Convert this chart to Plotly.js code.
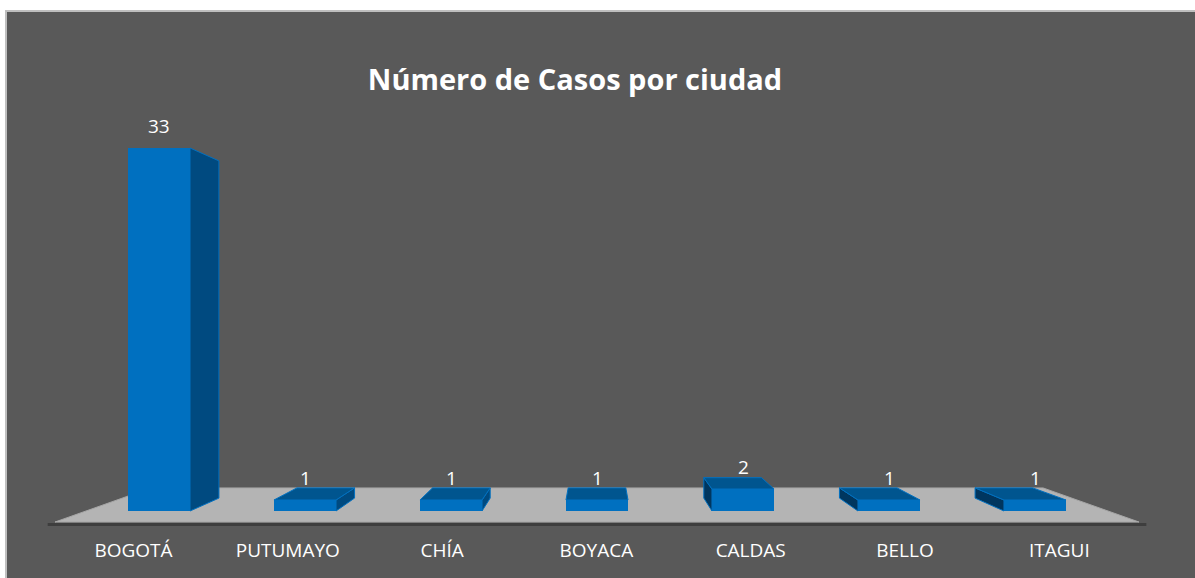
<!DOCTYPE html>
<html><head><meta charset="utf-8">
<script src="https://cdn.plot.ly/plotly-3.0.1.min.js"></script>
<style>html,body{margin:0;padding:0;background:#fff;}#chart{width:1195px;height:578px;}</style>
</head><body><div id="chart"></div>
<script>
// ---- data ----
const categories = ['BOGOTÁ', 'PUTUMAYO', 'CHÍA', 'BOYACA', 'CALDAS', 'BELLO', 'ITAGUI'];
const casos = [33, 1, 1, 1, 2, 1, 1];
const chartTitle = 'Número de Casos por ciudad';

// ---- style / pseudo-3D projection parameters ----
const W = 1195, H = 578, MB = 41;
const barWidth = 0.425;
const backScale = 0.929;      // depth scale of bar back faces
const floorFront = 1.0606, floorBack = 0.873, axisScale = 1.075;
const colFront = '#0070C0', colSide = '#004A80', colSideL = '#00365F', colTop = '#00558F';
const FONT = 'Open Sans, Noto Sans, sans-serif';

const idx = categories.map((_, i) => i);
const n = categories.length;
const vx = (n - 1) / 2;                 // vanishing point (centre of categories)
const vy = Math.max(...casos) / 2;      // eye level at half the tallest bar
function proj(x, y, s) { return [vx + (x - vx) * s, vy + (y - vy) * s]; }

// axis mapping (bar axis and label axis)
const bx0 = 159, bdx = 146, lx0 = 133.5, ldx = 154.3, y0px = 511, ypx = 11;
const plotH = H - MB;

// ---- faces ----
function polyTrace(polys, fill) {
  const xs = [], ys = [];
  polys.forEach(p => { p.forEach(pt => { xs.push(pt[0]); ys.push(pt[1]); }); xs.push(p[0][0]); ys.push(p[0][1]); xs.push(null); ys.push(null); });
  return {x: xs, y: ys, type: 'scatter', mode: 'lines', fill: 'toself', fillcolor: fill,
          line: {color: colFront, width: 1}, hoverinfo: 'skip', showlegend: false, xaxis: 'x', yaxis: 'y'};
}
const rightFaces = [], leftFaces = [], topFaces = [];
idx.forEach(i => {
  const v = casos[i], xl = i - barWidth / 2, xr = i + barWidth / 2;
  if (i < vx) {
    rightFaces.push([[xr, v], proj(xr, v, backScale), proj(xr, 0, backScale), [xr, 0]]);
  } else if (i > vx) {
    leftFaces.push([[xl, v], proj(xl, v, backScale), proj(xl, 0, backScale), [xl, 0]]);
  }
  if (v < vy) {
    topFaces.push([[xl, v], [xr, v], proj(xr, v, backScale), proj(xl, v, backScale)]);
  }
});

// floor and axis line as shapes below the traces
const fFL = proj(-0.5, 0, floorFront), fFR = proj(n - 0.5, 0, floorFront);
const fBL = proj(-0.5, 0, floorBack), fBR = proj(n - 0.5, 0, floorBack);
const aL = proj(-0.5, 0, axisScale), aR = proj(n - 0.5, 0, axisScale);
const floorPath = `M${fFL[0]},${fFL[1]} L${fFR[0]},${fFR[1]} L${fBR[0]},${fBR[1]} L${fBL[0]},${fBL[1]} Z`;

const traces = [
  {type: 'bar', x: idx, y: casos, width: barWidth, marker: {color: colFront, line: {width: 0}},
   hoverinfo: 'skip', showlegend: false, xaxis: 'x', yaxis: 'y'},
  polyTrace(rightFaces, colSide),
  polyTrace(leftFaces, colSideL),
  polyTrace(topFaces, colTop),
  {type: 'scatter', x: idx, y: idx.map(() => 0), mode: 'none', xaxis: 'x2', yaxis: 'y',
   hoverinfo: 'skip', showlegend: false}
];

const annotations = idx.map(i => ({
  x: i, y: casos[i], xref: 'x', yref: 'y', text: String(casos[i]), showarrow: false,
  yshift: 22, font: {family: FONT, size: 19, color: '#FFFFFF'}
}));

const layout = {
  width: W, height: H,
  margin: {l: 0, r: 0, t: 0, b: MB, pad: 0},
  paper_bgcolor: '#595959', plot_bgcolor: 'rgba(0,0,0,0)',
  showlegend: false,
  title: {text: chartTitle, font: {family: FONT, size: 29, color: '#FFFFFF', weight: 'bold'},
          x: 575 / W, xanchor: 'center', y: 1 - 80 / H, yanchor: 'middle', xref: 'container', yref: 'container'},
  xaxis: {range: [-bx0 / bdx, (W - bx0) / bdx], showticklabels: false, showgrid: false, zeroline: false,
          showline: false, ticks: '', fixedrange: true},
  xaxis2: {overlaying: 'x', anchor: 'y', side: 'bottom', range: [-lx0 / ldx, (W - lx0) / ldx],
           tickmode: 'array', tickvals: idx, ticktext: categories, showgrid: false, zeroline: false,
           showline: false, ticks: '', tickfont: {family: FONT, size: 19, color: '#FFFFFF'}, fixedrange: true},
  yaxis: {range: [(y0px - plotH) / ypx, y0px / ypx], showticklabels: false, showgrid: false, zeroline: false,
          showline: false, ticks: '', fixedrange: true},
  bargap: 0,
  shapes: [
    {type: 'path', xref: 'x', yref: 'y', path: floorPath, fillcolor: '#B4B4B4',
     line: {color: '#A6A6A6', width: 1}, layer: 'below'},
    {type: 'line', xref: 'x', yref: 'y', x0: aL[0], y0: aL[1], x1: aR[0], y1: aR[1],
     line: {color: '#3E3E3E', width: 3}, layer: 'below'},
    // white margin and light border of the chart panel
    {type: 'rect', xref: 'paper', yref: 'paper', x0: 0, x1: 5 / W, y0: -MB / plotH, y1: 1,
     fillcolor: '#FFFFFF', line: {width: 0}, layer: 'below'},
    {type: 'rect', xref: 'paper', yref: 'paper', x0: 0, x1: 1, y0: 1 - 10 / plotH, y1: 1,
     fillcolor: '#FFFFFF', line: {width: 0}, layer: 'below'},
    {type: 'line', xref: 'paper', yref: 'paper', x0: 6 / W, x1: 1, y0: 1 - 11 / plotH, y1: 1 - 11 / plotH,
     line: {color: '#BFBFBF', width: 2}, layer: 'below'},
    {type: 'line', xref: 'paper', yref: 'paper', x0: 6 / W, x1: 6 / W, y0: -MB / plotH, y1: 1 - 10 / plotH,
     line: {color: '#BFBFBF', width: 2}, layer: 'below'}
  ],
  annotations: annotations
};

Plotly.newPlot('chart', traces, layout, {displayModeBar: false, staticPlot: true});
</script>
</body></html>
